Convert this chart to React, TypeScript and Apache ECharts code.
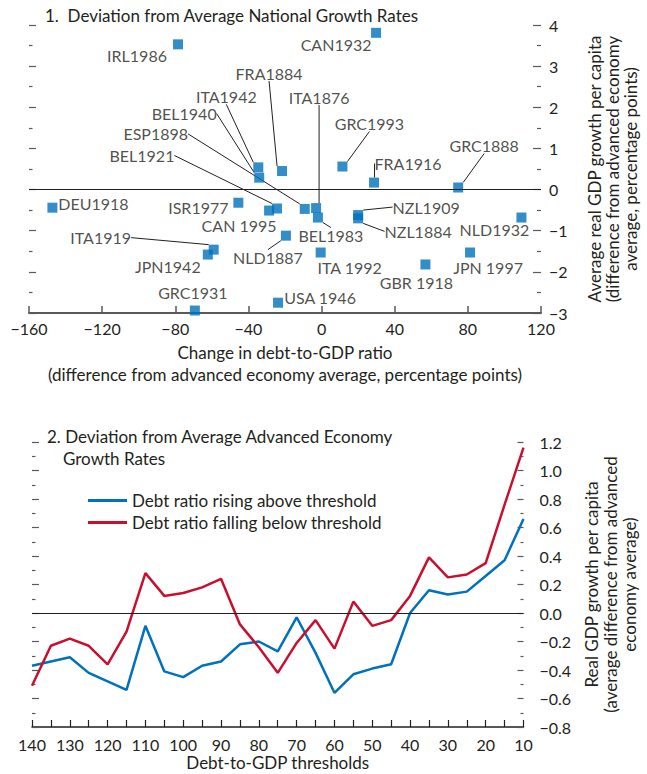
import React, { useEffect, useRef } from 'react';
import * as echarts from 'echarts';

const FONT = 'Lato, "Noto Sans", sans-serif';
const TEXT = '#231f20';
const AXIS = '#58595b';
const BLUE = '#0071bc';
const RED = '#c8102e';

// ---------- Panel 1 data ----------
const episodes = [
  'IRL1986', 'CAN1932', 'FRA1884', 'ITA1942', 'BEL1940', 'ESP1898', 'BEL1921',
  'ITA1876', 'GRC1993', 'FRA1916', 'GRC1888', 'DEU1918', 'ISR1977', 'CAN 1995',
  'NLD1887', 'BEL1983', 'ITA1919', 'JPN1942', 'GRC1931', 'USA 1946', 'ITA 1992',
  'GBR 1918', 'JPN 1997', 'NLD1932', 'NZL1909', 'NZL1884',
];
const debtChange = [
  -78.5, 29.8, -21.6, -34.6, -34.1, -9.2, -24.4,
  -3.0, 11.4, 28.7, 74.7, -147.2, -45.5, -28.7,
  -19.5, -2.0, -59.0, -62.2, -69.3, -23.8, -0.5,
  56.8, 81.2, 109.3, 20.0, 20.0,
];
const growthDev = [
  3.53, 3.81, 0.45, 0.54, 0.29, -0.47, -0.46,
  -0.45, 0.56, 0.17, 0.05, -0.44, -0.32, -0.51,
  -1.12, -0.68, -1.46, -1.58, -2.94, -2.75, -1.53,
  -1.82, -1.53, -0.68, -0.62, -0.70,
];
const xTicks = { min: -160, max: 120, step: 40 };
const yTicks1 = { min: -3, max: 4, step: 1 };

// label placement (pixel offset of label centre from its point, leader line?)
const labelPlacement: Record<string, [number, number, boolean]> = {
  'IRL1986': [-41, 11, false],
  'CAN1932': [-40, 12, false],
  'FRA1884': [-13, -98, true],
  'ITA1942': [-32, -71, true],
  'BEL1940': [-75, -64, true],
  'ESP1898': [-149, -75, true],
  'BEL1921': [-135, -53, true],
  'ITA1876': [3, -111, true],
  'GRC1993': [27, -43, true],
  'FRA1916': [34, -19, true],
  'GRC1888': [26, -42, true],
  'DEU1918': [41, -4, false],
  'ISR1977': [-40, 5, false],
  'CAN 1995': [-30, 15, false],
  'NLD1887': [-18, 22, true],
  'BEL1983': [13, 18, true],
  'ITA1919': [-113, -12, true],
  'JPN1942': [-40, 12, false],
  'GRC1931': [-2, -18, false],
  'USA 1946': [42, -5, false],
  'ITA 1992': [29, 15, false],
  'GBR 1918': [-9, 18, false],
  'JPN 1997': [18, 15, false],
  'NLD1932': [-27, 12, false],
  'NZL1909': [68, -8, true],
  'NZL1884': [60, 13, true],
};

// ---------- Panel 2 data ----------
const thresholds = [140, 135, 130, 125, 120, 115, 110, 105, 100, 95, 90, 85, 80, 75, 70, 65, 60, 55, 50, 45, 40, 35, 30, 25, 20, 15, 10];
const risingAbove = [-0.37, -0.34, -0.31, -0.42, -0.48, -0.54, -0.09, -0.41, -0.45, -0.37, -0.34, -0.22, -0.20, -0.27, -0.03, -0.28, -0.56, -0.43, -0.39, -0.36, 0.0, 0.16, 0.13, 0.15, 0.26, 0.37, 0.66];
const fallingBelow = [-0.51, -0.23, -0.18, -0.23, -0.36, -0.13, 0.28, 0.12, 0.14, 0.18, 0.24, -0.08, -0.24, -0.42, -0.21, -0.05, -0.25, 0.08, -0.09, -0.05, 0.12, 0.39, 0.25, 0.27, 0.35, 0.76, 1.16];
const seriesNames = ['Debt ratio rising above threshold', 'Debt ratio falling below threshold'];
const yTicks2 = { min: -0.8, max: 1.2, step: 0.2 };

const minus = (s: string) => s.replace('-', '\u2212');

const tickOnlyAxis = (gridIndex: number, t: { min: number; max: number; step: number }, len: number) => ({
  gridIndex,
  type: 'value',
  position: 'left',
  min: t.min,
  max: t.max,
  interval: t.step,
  axisLine: { show: false, onZero: false },
  axisLabel: { show: false },
  axisTick: { show: true, inside: true, length: len, lineStyle: { color: AXIS, width: 1.2 } },
  minorTick: { show: true, splitNumber: 2, length: 3.5, lineStyle: { color: AXIS, width: 1.2 } },
  splitLine: { show: false },
});

const zeroLine = {
  silent: true,
  symbol: 'none',
  label: { show: false },
  lineStyle: { color: TEXT, width: 1, type: 'solid' },
  data: [{ yAxis: 0 }],
};

export default function App() {
  const ref = useRef<HTMLDivElement>(null);
  useEffect(() => {
    if (!ref.current) return;
    const chart = echarts.init(ref.current, undefined, { renderer: 'svg' });
    const txt = { fontFamily: FONT, fontSize: 16, color: TEXT, fontWeight: 'normal' as const };
    const big = { ...txt, fontSize: 17 };
    const option: any = {
      animation: false,
      textStyle: { fontFamily: FONT },
      title: [
        { text: '1.  Deviation from Average National Growth Rates', left: 45, top: 7, padding: 0, textStyle: big },
        { text: '2. Deviation from Average Advanced Economy', left: 47, top: 428, padding: 0, textStyle: big },
        { text: 'Growth Rates', left: 63, top: 450, padding: 0, textStyle: big },
      ],
      legend: {
        orient: 'vertical',
        left: 88,
        top: 492,
        padding: 0,
        itemGap: 5,
        itemWidth: 39,
        itemHeight: 3,
        icon: 'rect',
        data: seriesNames,
        textStyle: { ...big, lineHeight: 17 },
      },
      grid: [
        { left: 29, right: 100, top: 25, height: 288 },
        { left: 32, right: 115, top: 442, height: 285 },
      ],
      xAxis: [
        {
          gridIndex: 0,
          type: 'value',
          min: xTicks.min,
          max: xTicks.max,
          interval: xTicks.step,
          axisLine: { onZero: false, lineStyle: { color: AXIS, width: 2 } },
          axisTick: { inside: true, length: 7, lineStyle: { color: AXIS, width: 1.5 } },
          axisLabel: { margin: 7, ...txt, lineHeight: 16, formatter: (v: number) => minus(String(v)) },
          splitLine: { show: false },
          name: 'Change in debt-to-GDP ratio\n(difference from advanced economy average, percentage points)',
          nameLocation: 'middle',
          nameGap: 28,
          nameTextStyle: { ...big, lineHeight: 22 },
        },
        {
          gridIndex: 1,
          type: 'value',
          inverse: true,
          min: 10,
          max: 140,
          interval: 5,
          axisLine: { onZero: false, lineStyle: { color: TEXT, width: 1.5 } },
          axisTick: { inside: true, length: 7, lineStyle: { color: TEXT, width: 1.2 } },
          axisLabel: { margin: 9, ...txt, lineHeight: 16, formatter: (v: number) => (v % 10 === 0 ? String(v) : '') },
          splitLine: { show: false },
          name: 'Debt-to-GDP thresholds',
          nameLocation: 'middle',
          nameGap: 27,
          nameTextStyle: { ...big, lineHeight: 17 },
        },
      ],
      yAxis: [
        {
          gridIndex: 0,
          type: 'value',
          position: 'right',
          min: yTicks1.min,
          max: yTicks1.max,
          interval: yTicks1.step,
          axisLine: { show: false, onZero: false },
          axisTick: { show: true, inside: true, length: 8, lineStyle: { color: AXIS, width: 1.2 } },
          minorTick: { show: true, splitNumber: 2, length: 4, lineStyle: { color: AXIS, width: 1.2 } },
          axisLabel: { margin: 8, ...txt, formatter: (v: number) => minus(String(v)) },
          splitLine: { show: false },
          name: 'Average real GDP growth per capita\n(difference from advanced economy\naverage, percentage points)',
          nameLocation: 'middle',
          nameRotate: 90,
          nameGap: 44,
          nameTextStyle: { ...big, lineHeight: 18 },
        },
        tickOnlyAxis(0, yTicks1, 7),
        {
          gridIndex: 1,
          type: 'value',
          position: 'right',
          min: yTicks2.min,
          max: yTicks2.max,
          interval: yTicks2.step,
          axisLine: { show: false, onZero: false },
          axisTick: { show: true, inside: true, length: 6, lineStyle: { color: AXIS, width: 1.2 } },
          minorTick: { show: true, splitNumber: 2, length: 3, lineStyle: { color: AXIS, width: 1.2 } },
          axisLabel: { margin: 16, ...txt, formatter: (v: number) => minus(v.toFixed(1)) },
          splitLine: { show: false },
          name: 'Real GDP growth per capita\n(average difference from advanced\neconomy average)',
          nameLocation: 'middle',
          nameRotate: 90,
          nameGap: 56,
          nameTextStyle: { ...big, lineHeight: 19 },
        },
        tickOnlyAxis(1, yTicks2, 7),
      ],
      series: [
        {
          type: 'scatter',
          xAxisIndex: 0,
          yAxisIndex: 0,
          symbol: 'rect',
          symbolSize: 10,
          itemStyle: { color: BLUE },
          z: 3,
          data: episodes.map((n, i) => ({
            name: n,
            value: [debtChange[i], growthDev[i]],
            labelLine: { show: labelPlacement[n][2] },
          })),
          label: { show: true, position: 'inside', formatter: '{b}', ...txt },
          labelLine: { show: false, length2: 0, lineStyle: { color: TEXT, width: 1 } },
          labelLayout: (p: any) => {
            const n = episodes[p.dataIndex];
            const o = labelPlacement[n];
            return {
              x: p.rect.x + p.rect.width / 2 + o[0],
              y: p.rect.y + p.rect.height / 2 + o[1],
              align: 'center',
              verticalAlign: 'middle',
            };
          },
          markLine: zeroLine,
        },
        {
          type: 'line',
          name: seriesNames[0],
          xAxisIndex: 1,
          yAxisIndex: 2,
          symbol: 'none',
          color: BLUE,
          lineStyle: { color: BLUE, width: 2.5 },
          data: thresholds.map((t, i) => [t, risingAbove[i]]),
          markLine: zeroLine,
        },
        {
          type: 'line',
          name: seriesNames[1],
          xAxisIndex: 1,
          yAxisIndex: 2,
          symbol: 'none',
          color: RED,
          lineStyle: { color: RED, width: 2.5 },
          data: thresholds.map((t, i) => [t, fallingBelow[i]]),
        },
      ],
    };
    chart.setOption(option);
    return () => chart.dispose();
  }, []);
  return <div ref={ref} style={{ position: 'absolute', left: 0, top: 0, width: 647, height: 774, background: '#fff' }} />;
}
